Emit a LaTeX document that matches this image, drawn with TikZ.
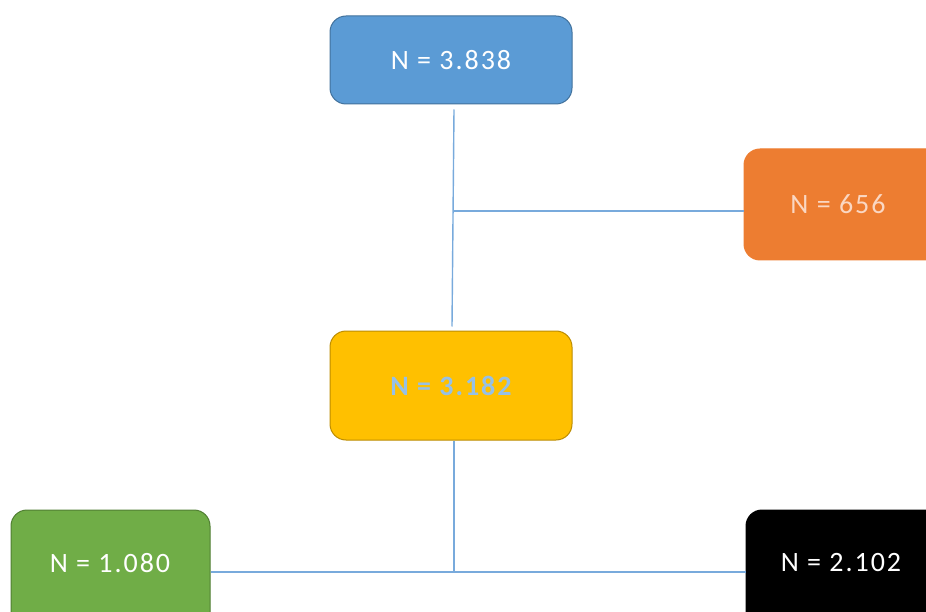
\documentclass[tikz,border=0pt]{standalone}
\usepackage{fontspec}
\setmainfont{Carlito}
\newfontfamily\boxfont[LetterSpace=7,BoldFont={Carlito Bold}]{Carlito}
\definecolor{cblue}{RGB}{91,155,213}
\definecolor{cblueb}{RGB}{65,113,156}
\definecolor{corange}{RGB}{237,125,49}
\definecolor{corangeb}{RGB}{237,125,49}
\definecolor{cyellow}{RGB}{255,192,0}
\definecolor{cyellowb}{RGB}{188,140,0}
\definecolor{cgreen}{RGB}{112,173,71}
\definecolor{cgreenb}{RGB}{80,126,50}
\definecolor{cline}{RGB}{120,170,220}
\definecolor{ctextlb}{RGB}{150,192,230}
\definecolor{ctextor}{RGB}{250,215,195}
\tikzset{
  box/.style={draw, line width=1pt, rounded corners=16pt, inner sep=0pt,
    font=\boxfont\fontsize{28}{31}\selectfont, text=white},
  lbl/.style={font=\boxfont\fontsize{28}{31}\selectfont, text=white},
  conn/.style={draw=cline, line width=1.4pt}
}
\begin{document}
\begin{tikzpicture}[x=1pt,y=-1pt]
\useasboundingbox (0,0) rectangle (926,612);
\clip (0,0) rectangle (926,612);
\node[box, fill=cblue, draw=cblueb, minimum width=242pt, minimum height=88pt] (n1) at (451,60) {N = 3.838};
\node[box, fill=corange, draw=corangeb, minimum width=200pt, minimum height=111pt] (n2) at (844,204.5) {};
\node[lbl, text=ctextor] (t2) at (838,204.5) {N = 656};
\node[box, fill=cyellow, draw=cyellowb, minimum width=242pt, minimum height=109pt, text=ctextlb] (n3) at (451,385.5) {\bfseries N = 3.182};
\node[box, fill=cgreen, draw=cgreenb, minimum width=199pt, minimum height=120pt] (n4) at (110.5,570) {};
\node[lbl] (t4) at (110,563) {N = 1.080};
\node[box, fill=black, draw=black, minimum width=200pt, minimum height=120pt] (n5) at (846,570) {};
\node[lbl] (t5) at (841,563) {N = 2.102};
\coordinate (j1) at (453,211);
\coordinate (j2) at (454,572);
\draw[conn] ([xshift=3pt,yshift=-5pt]n1.south) -- ([xshift=1pt,yshift=4pt]n3.north);
\draw[conn] (j1) -- (n2.west |- j1);
\draw[conn] ([xshift=3pt]n3.south) -- (j2);
\draw[conn] (n4.east |- j2) -- (n5.west |- j2);
\end{tikzpicture}
\end{document}
